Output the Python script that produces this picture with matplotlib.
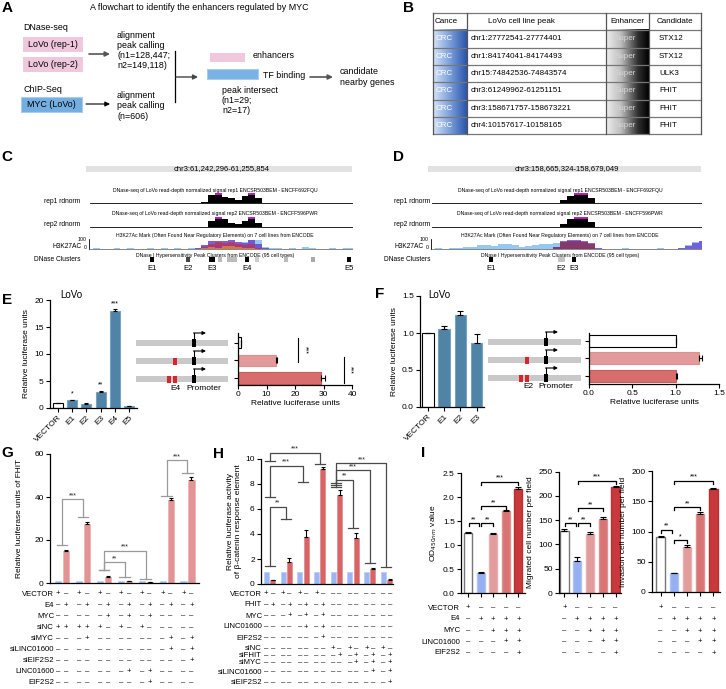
import numpy as np
import matplotlib.pyplot as plt
from matplotlib.patches import Rectangle
from matplotlib.colors import LinearSegmentedColormap
from matplotlib.transforms import blended_transform_factory

plt.rcParams['font.family'] = ['Liberation Sans', 'DejaVu Sans']

# ---------------- data ----------------
# B: candidate table
tb_cancer = ['CRC'] * 6
tb_peaks = ['chr1:27772541-27774401', 'chr1:84174041-84174493', 'chr15:74842536-74843574',
            'chr3:61249962-61251151', 'chr3:158671757-158673221', 'chr4:10157617-10158165']
tb_enh = ['Super'] * 6
tb_genes = ['STX12', 'STX12', 'ULK3', 'FHIT', 'FHIT', 'FHIT']

# C / D: browser tracks, signal along the locus (kb from region start)
c_region = 'chr3:61,242,296-61,255,854'
c_len = 13.558
c_rep1 = [0.02, 0.00, 0.03, 0.01, 0.02, 0.04, 0.00, 0.02, 0.03, 0.01, 0.02, 0.05, 0.02, 0.00, 0.03, 0.02,
          0.04, 0.20, 0.90, 1.00, 0.70, 0.55, 0.35, 0.85, 1.00, 0.60, 0.05, 0.02, 0.03, 0.00, 0.02, 0.04,
          0.00, 0.02, 0.03, 0.00, 0.02, 0.03, 0.00, 0.02]
c_rep2 = [0.01, 0.02, 0.00, 0.03, 0.01, 0.02, 0.03, 0.00, 0.02, 0.01, 0.03, 0.02, 0.00, 0.02, 0.04, 0.01,
          0.03, 0.05, 0.70, 1.00, 0.90, 0.45, 0.30, 0.70, 1.00, 0.40, 0.03, 0.01, 0.02, 0.00, 0.03, 0.01,
          0.02, 0.00, 0.02, 0.03, 0.01, 0.02, 0.00, 0.01]
c_k27_blue = [0.05, 0.10, 0.04, 0.08, 0.12, 0.06, 0.10, 0.05, 0.08, 0.15, 0.06, 0.10, 0.05, 0.12, 0.08, 0.10,
              0.20, 0.35, 0.50, 0.55, 0.60, 0.55, 0.60, 0.75, 1.00, 0.95, 0.25, 0.10, 0.15, 0.08, 0.10, 0.06,
              0.25, 0.10, 0.05, 0.08, 0.12, 0.06, 0.10, 0.15]
c_k27_purple = [0.00, 0.03, 0.00, 0.00, 0.05, 0.00, 0.02, 0.00, 0.00, 0.04, 0.00, 0.00, 0.03, 0.00, 0.00, 0.05,
                0.15, 0.45, 0.85, 0.90, 0.90, 0.95, 0.80, 0.70, 0.95, 0.55, 0.10, 0.00, 0.03, 0.00, 0.00, 0.04,
                0.00, 0.00, 0.02, 0.00, 0.00, 0.05, 0.00, 0.03]
c_k27_red = [0.00, 0.00, 0.04, 0.00, 0.00, 0.00, 0.05, 0.00, 0.00, 0.00, 0.03, 0.00, 0.00, 0.04, 0.00, 0.00,
             0.05, 0.25, 0.60, 0.75, 0.65, 0.80, 0.60, 0.45, 0.60, 0.20, 0.00, 0.00, 0.00, 0.04, 0.00, 0.00,
             0.00, 0.00, 0.05, 0.00, 0.00, 0.00, 0.03, 0.00]
c_k27_gold = [0.00, 0.04, 0.00, 0.00, 0.00, 0.03, 0.00, 0.00, 0.05, 0.00, 0.00, 0.04, 0.00, 0.00, 0.00, 0.03,
              0.00, 0.10, 0.30, 0.20, 0.35, 0.40, 0.25, 0.15, 0.20, 0.05, 0.00, 0.04, 0.00, 0.00, 0.03, 0.00,
              0.00, 0.05, 0.00, 0.00, 0.04, 0.00, 0.00, 0.00]
c_cl_pos = [3.20, 5.05, 6.29, 6.70, 7.32, 8.09, 8.61, 10.10, 11.50, 13.35]
c_cl_w = [0.20, 0.20, 0.26, 0.22, 0.50, 0.22, 0.22, 0.20, 0.20, 0.20]
c_cl_col = ['black', '#444444', 'black', '#bbbbbb', '#bbbbbb', 'black', '#cccccc', '#bbbbbb', '#aaaaaa', 'black']
c_e_idx = [0, 1, 2, 5, 9]
c_e_names = ['E1', 'E2', 'E3', 'E4', 'E5']

d_region = 'chr3:158,665,324-158,679,049'
d_len = 13.725
d_rep1 = [0.02, 0.00, 0.01, 0.03, 0.00, 0.02, 0.01, 0.00, 0.03, 0.02, 0.00, 0.01, 0.02, 0.00, 0.03, 0.01,
          0.02, 0.03, 0.05, 0.40, 0.80, 1.00, 1.00, 0.60, 0.05, 0.02, 0.00, 0.01, 0.03, 0.00, 0.02, 0.01,
          0.00, 0.02, 0.03, 0.00, 0.01, 0.02, 0.00, 0.03]
d_rep2 = [0.03, 0.01, 0.02, 0.00, 0.03, 0.02, 0.04, 0.01, 0.03, 0.00, 0.02, 0.03, 0.01, 0.02, 0.00, 0.03,
          0.02, 0.01, 0.04, 0.30, 0.85, 1.00, 1.00, 0.50, 0.04, 0.01, 0.03, 0.00, 0.02, 0.01, 0.03, 0.00,
          0.02, 0.01, 0.00, 0.03, 0.02, 0.00, 0.01, 0.02]
d_k27_blue = [0.05, 0.10, 0.08, 0.12, 0.20, 0.30, 0.25, 0.45, 0.50, 0.35, 0.55, 0.60, 0.45, 0.30, 0.35, 0.50,
              0.55, 0.60, 0.65, 0.70, 0.75, 0.80, 0.70, 0.30, 0.10, 0.06, 0.08, 0.05, 0.10, 0.06, 0.08, 0.05,
              0.07, 0.10, 0.06, 0.08, 0.20, 0.50, 0.75, 0.90]
d_k27_purple = [0.03, 0.00, 0.05, 0.00, 0.02, 0.00, 0.04, 0.00, 0.06, 0.00, 0.03, 0.00, 0.05, 0.00, 0.02, 0.00,
                0.04, 0.05, 0.30, 0.85, 0.95, 0.95, 0.90, 0.70, 0.10, 0.00, 0.03, 0.00, 0.00, 0.04, 0.00, 0.00,
                0.03, 0.00, 0.00, 0.05, 0.10, 0.35, 0.65, 0.85]
d_k27_red = [0.00, 0.00, 0.00, 0.03, 0.00, 0.00, 0.00, 0.04, 0.00, 0.00, 0.00, 0.03, 0.00, 0.00, 0.00, 0.04,
             0.00, 0.00, 0.25, 0.75, 0.85, 0.85, 0.80, 0.55, 0.05, 0.00, 0.00, 0.00, 0.04, 0.00, 0.00, 0.00,
             0.00, 0.03, 0.00, 0.00, 0.00, 0.00, 0.00, 0.00]
d_k27_gold = [0.00, 0.03, 0.00, 0.00, 0.00, 0.00, 0.04, 0.00, 0.00, 0.00, 0.05, 0.00, 0.00, 0.00, 0.03, 0.00,
              0.00, 0.00, 0.00, 0.00, 0.00, 0.00, 0.00, 0.00, 0.00, 0.04, 0.00, 0.00, 0.06, 0.00, 0.00, 0.00,
              0.04, 0.00, 0.00, 0.00, 0.00, 0.03, 0.00, 0.00]
d_cl_pos = [3.00, 6.58, 7.21]
d_cl_w = [0.22, 0.36, 0.22]
d_cl_col = ['black', '#c4c4c4', 'black']
d_e_idx = [0, 1, 2]
d_e_names = ['E1', 'E2', 'E3']

# E
e_labels = ['VECTOR', 'E1', 'E2', 'E3', 'E4', 'E5']
e_vals = [1.0, 1.4, 0.8, 3.0, 18.0, 0.3]
e_err = [0.0, 0.1, 0.05, 0.15, 0.3, 0.05]
e_stars = ['', '*', '', '**', '***', '']
e4_vals = [1.0, 13.2, 29.0]
e4_err = [0.2, 0.6, 1.4]

# F
f_labels = ['VECTOR', 'E1', 'E2', 'E3']
f_vals = [1.0, 1.05, 1.25, 0.86]
f_err = [0.0, 0.05, 0.05, 0.12]
e2_vals = [1.0, 1.27, 1.0]
e2_err = [0.0, 0.03, 0.02]

# G
g_blue = [1.0, 1.0, 1.0, 1.0, 1.0, 1.0, 1.0]
g_red = [15.0, 27.3, 2.9, 0.9, 0.3, 38.6, 47.9]
g_red_err = [0.3, 1.0, 0.3, 0.1, 0.05, 0.8, 1.3]
g_rows = ['VECTOR', 'E4', 'MYC', 'siNC', 'siMYC', 'siLINC01600', 'siEIF2S2', 'LINC01600', 'EIF2S2']
g_signs = ['+-+-+-+-+-+-+-',
           '-+-+-+-+-+-+-+',
           '-----+-+-+----',
           '+++++-+-+-----',
           '---+-------+-+',
           '-----------+-+',
           '-------------+',
           '-------+-+----',
           '---------+----']
g_brackets = [(0, 1, 39, 17.5, 30.5, '***'), (2, 3, 9.6, 6, 2.8, '**'),
              (2, 4, 15, 6, 1.7, '***'), (5, 6, 57, 40.5, 51, '***')]

# H
h_blue = [1.0, 1.0, 1.0, 1.0, 1.0, 1.0, 1.0, 1.0]
h_red = [0.3, 1.75, 3.8, 9.2, 7.1, 3.7, 1.2, 0.35]
h_red_err = [0.03, 0.35, 0.5, 0.2, 0.45, 0.35, 0.05, 0.05]
h_rows = ['VECTOR', 'FHIT', 'MYC', 'LINC01600', 'EIF2S2', 'siNC', 'siFHIT', 'siMYC', 'siLINC01600', 'siEIF2S2']
h_signs = ['+-+-+-+---------',
           '-+-+-+-+--------',
           '---+-+-+--------',
           '-----+-+--------',
           '-------+--------',
           '--------+-+-+-+-',
           '---------+-+-+-+',
           '-----------+-+-+',
           '-------------+-+',
           '---------------+']
h_brackets = [(0, 3, 10.5, 9.8, 9.6, '***'), (0, 2, 9.45, 7.0, 8.2, '***'), (0, 1, 6.2, 1.45, 5.2, '**'),
              (4, 7, 9.65, 8.1, 1.35, '***'), (4, 6, 9.1, 7.9, 1.7, '***'), (4, 5, 8.35, 7.75, 4.5, '**')]

# I
i_od = [1.25, 0.42, 1.22, 1.70, 2.16]
i_od_err = [0.03, 0.02, 0.02, 0.02, 0.04]
i_mig = [128, 65, 122, 153, 218]
i_mig_err = [3, 10, 3, 4, 2]
i_inv = [91, 31, 75, 129, 170]
i_inv_err = [2, 1, 3, 3, 2]
i_rows = ['VECTOR', 'E4', 'MYC', 'LINC01600', 'EIF2S2']
i_signs = ['+----', '-++++', '--+++', '---++', '----+']
i_od_br = [(0, 1, 1.46, '**'), (1, 2, 1.46, '**'), (1, 3, 1.81, '**'), (1, 4, 2.32, '***')]
i_mig_br = [(0, 1, 144, '**'), (1, 2, 144, '**'), (1, 3, 175, '**'), (1, 4, 231, '***')]
i_inv_br = [(0, 1, 103, '**'), (1, 2, 86, '*'), (1, 3, 140, '**'), (1, 4, 184, '***')]

# ---------------- figure ----------------
W, H = 726, 689
fig = plt.figure(figsize=(W / 100, H / 100), dpi=100)


def px_ax(x0, y0, x1, y1):
    return fig.add_axes([x0 / W, 1 - y1 / H, (x1 - x0) / W, (y1 - y0) / H])


ov = fig.add_axes([0, 0, 1, 1])
ov.axis('off')
ov.set_xlim(0, W)
ov.set_ylim(H, 0)

for lab, (x, y) in {'A': (7, 8), 'B': (409, 8), 'C': (7, 157), 'D': (399, 157), 'E': (7, 300),
                    'F': (380, 294), 'G': (7, 453), 'H': (218, 454), 'I': (423, 453)}.items():
    ov.text(x, y, lab, fontsize=11, fontweight='bold', ha='center', va='center')


def arrow(x0, y, x1, color='#333333', lw=1.0):
    ov.annotate('', xy=(x1, y), xytext=(x0, y),
                arrowprops=dict(arrowstyle='-|>', color=color, lw=lw, mutation_scale=7, shrinkA=0, shrinkB=0))


# A: flowchart
pink, sky = '#efc8de', '#74aee0'
fs_a = 6.4
ov.text(90, 7, 'A flowchart to identify the enhancers regulated by MYC', fontsize=fs_a, va='center')
ov.text(23, 28, 'DNase-seq', fontsize=fs_a, va='center')
for y0, t in [(37, 'LoVo (rep-1)'), (57, 'LoVo (rep-2)')]:
    ov.add_patch(Rectangle((23, y0), 60, 15, fc=pink, ec='none'))
    ov.text(53, y0 + 7.5, t, ha='center', va='center', fontsize=fs_a)
ov.text(23, 90, 'ChIP-Seq', fontsize=fs_a, va='center')
ov.add_patch(Rectangle((21, 97), 61, 15, fc=sky, ec='#a8cdee', lw=0.8))
ov.text(51.5, 104.5, 'MYC (LoVo)', ha='center', va='center', fontsize=fs_a)
arrow(89, 54, 110, color='#555555', lw=1.2)
arrow(86, 104, 110, color='black', lw=0.8)
ov.text(117, 50.5, 'alignment\npeak calling\n(n1=128,447;\nn2=149,118)', fontsize=fs_a, va='center',
        linespacing=1.15)
ov.text(117, 106, 'alignment\npeak calling\n(n=606)', fontsize=fs_a, va='center', linespacing=1.15)
ov.plot([175, 175], [51, 102], color='black', lw=0.9)
arrow(176, 77, 198, color='#444444', lw=1.0)
ov.add_patch(Rectangle((210, 53), 35, 9, fc=pink, ec='none'))
ov.text(253, 56, 'enhancers', fontsize=fs_a, va='center')
ov.add_patch(Rectangle((207, 69), 51, 10, fc='#7ab3e3', ec='#a8cdee', lw=0.8))
ov.text(263, 76, 'TF binding', fontsize=fs_a, va='center')
arrow(310, 77, 333, color='#555555', lw=1.2)
ov.text(340, 77, 'candidate\nnearby genes', fontsize=fs_a, va='center', linespacing=1.15)
ov.text(222, 100.5, 'peak intersect\n(n1=29;\nn2=17)', fontsize=fs_a, va='center', linespacing=1.15)

# B: table
cols = [432.7, 466.7, 606, 649, 700.7]
rows = [12.7, 30, 47.5, 65, 82.3, 99.7, 116.8, 134.3]
grad = np.linspace(0, 1, 256)[None, :]
blue_cm = LinearSegmentedColormap.from_list('cb', ['#d6e3f6', '#7b9fda', '#2a54ac'])
grey_cm = LinearSegmentedColormap.from_list('cg', [(0, '#eeeeee'), (0.35, '#bdbdbd'), (0.75, '#2e2e2e'), (1, '#000000')])
ov.imshow(grad, cmap=blue_cm, extent=(cols[0], cols[1], rows[-1], rows[1]), aspect='auto', zorder=1)
ov.imshow(grad, cmap=grey_cm, extent=(cols[2], cols[3], rows[-1], rows[1]), aspect='auto', zorder=1)
for y in rows:
    ov.plot([cols[0], cols[-1]], [y, y], color='#777777', lw=0.9, zorder=2)
for x in cols:
    ov.plot([x, x], [rows[0], rows[-1]], color='#555555', lw=0.9, zorder=2)
fs_b = 5.8
ov.text(434.5, 21.5, 'Cance', fontsize=fs_b, va='center', zorder=3)
ov.text(488, 21.5, 'LoVo cell line peak', fontsize=fs_b, va='center', zorder=3)
ov.text(627.5, 21.5, 'Enhancer', fontsize=fs_b, va='center', ha='center', zorder=3)
ov.text(675, 21.5, 'Candidate', fontsize=fs_b, va='center', ha='center', zorder=3)
for k in range(len(tb_peaks)):
    yc = (rows[k + 1] + rows[k + 2]) / 2
    ov.text(436, yc, tb_cancer[k], fontsize=fs_b, va='center', color='white', zorder=3)
    ov.text(471, yc, tb_peaks[k], fontsize=fs_b, va='center', zorder=3)
    ov.text(615, yc, tb_enh[k], fontsize=fs_b, va='center', color='#d6d6d6', zorder=3)
    ov.text(659, yc, tb_genes[k], fontsize=fs_b, va='center', zorder=3)


# C / D: browser views
t_rep1 = 'DNase-seq of LoVo read-depth normalized signal rep1 ENCSR503BEM - ENCFF692FQU'
t_rep2 = 'DNase-seq of LoVo read-depth normalized signal rep2 ENCSR503BEM - ENCFF596PWR'
t_k27 = 'H3K27Ac Mark (Often Found Near Regulatory Elements) on 7 cell lines from ENCODE'
t_dn = 'DNase I Hypersensitivity Peak Clusters from ENCODE (95 cell types)'


def locus(x0, x1, lab_r, region, length, rep1, rep2, k27, cl_pos, cl_w, cl_col, e_idx, e_names, tx):
    ov.add_patch(Rectangle((x0 - 4, 166), x1 - x0 + 3, 6, fc='#e2e2e2', ec='none'))
    ov.text((x0 + x1) / 2, 168.5, region, ha='center', va='center', fontsize=5.5)
    pos = np.linspace(0, length, len(rep1))
    step = pos[1] - pos[0]
    for y0, y1, sig, title, name in [(193, 204, rep1, t_rep1, 'rep1 rdnorm'),
                                     (216.5, 227.5, rep2, t_rep2, 'rep2 rdnorm')]:
        ax = px_ax(x0, y0, x1, y1)
        ax.fill_between(pos, 0, sig, step='mid', color='black', lw=0)
        ax.axhline(0, color='black', lw=0.6)
        for p, v in zip(pos, sig):
            if v >= 1.0:
                ax.hlines(1.02, p - step / 2, p + step / 2, color='#c218c2', lw=1.4)
        ax.set_xlim(0, length)
        ax.set_ylim(-0.06, 1.15)
        ax.axis('off')
        ov.text(tx, y0 - 2.5, title, ha='center', va='center', fontsize=3.7)
        ov.text(lab_r, y1 - 2.5, name, ha='right', va='center', fontsize=4.8)
    ax = px_ax(x0, 239, x1, 250)
    for vals, col, al in k27:
        ax.fill_between(pos, 0, vals, step='mid', color=col, alpha=al, lw=0)
    ax.axhline(0, color='#555555', lw=0.5)
    ax.set_xlim(0, length)
    ax.set_ylim(-0.06, 1.1)
    ax.axis('off')
    ov.text(tx, 236, t_k27, ha='center', va='center', fontsize=3.7)
    ov.plot([x0 - 1, x0 - 1], [239, 249], color='black', lw=0.6)
    ov.text(x0 - 3, 239.5, '100', ha='right', va='center', fontsize=3.8)
    ov.text(x0 - 3, 247.5, '0', ha='right', va='center', fontsize=3.8)
    ov.text(x0 - 8, 247, 'H3K27AC', ha='right', va='center', fontsize=4.8)
    ov.text(tx, 255, t_dn, ha='center', va='center', fontsize=3.7)
    ov.text(lab_r, 259.5, 'DNase Clusters', ha='right', va='center', fontsize=4.8)
    ax = px_ax(x0, 257.5, x1, 262.5)
    ax.bar(cl_pos, [1] * len(cl_pos), width=cl_w, color=cl_col)
    ax.set_xlim(0, length)
    ax.set_ylim(0, 1)
    ax.axis('off')
    tr = blended_transform_factory(ax.transData, ov.transData)
    for k, nm in zip(e_idx, e_names):
        ax.text(cl_pos[k], 269, nm, transform=tr, ha='center', va='center', fontsize=5.5)


locus(90, 353, 80, c_region, c_len, c_rep1, c_rep2,
      [(c_k27_blue, '#95c8f5', 1.0), (c_k27_purple, '#6a45c8', 0.85),
       (c_k27_red, '#c2304c', 0.7), (c_k27_gold, '#f0a030', 0.6)],
      c_cl_pos, c_cl_w, c_cl_col, c_e_idx, c_e_names, 215)
locus(432, 702, 430, d_region, d_len, d_rep1, d_rep2,
      [(d_k27_blue, '#95c8f5', 1.0), (d_k27_purple, '#6a50d8', 0.85),
       (d_k27_red, '#8e2a48', 0.75), (d_k27_gold, '#f0a030', 0.6)],
      d_cl_pos, d_cl_w, d_cl_col, d_e_idx, d_e_names, 560)


def style(ax, fs=6):
    ax.spines[['top', 'right']].set_visible(False)
    ax.spines[['left', 'bottom']].set_linewidth(0.9)
    ax.tick_params(labelsize=fs, length=3, width=0.8, pad=1.5)
    ax.patch.set_visible(False)


def construct(x0, x1, xp, ys, red_sets, xe, lab):
    for y, reds in zip(ys, red_sets):
        ov.add_patch(Rectangle((x0, y - 3), x1 - x0, 6, fc='#c9c9c9', ec='none'))
        for rx in reds:
            ov.add_patch(Rectangle((rx, y - 3.5), 4, 7, fc='#d7262b', ec='none'))
        ov.add_patch(Rectangle((xp, y - 4), 3.5, 8, fc='black', ec='none'))
        ov.plot([xp + 1.75, xp + 1.75], [y - 4, y - 10], color='black', lw=0.8)
        ov.annotate('', xy=(xp + 14, y - 10), xytext=(xp + 1.5, y - 10),
                    arrowprops=dict(arrowstyle='-|>', lw=0.8, color='black', mutation_scale=5,
                                    shrinkA=0, shrinkB=0))
    ov.text(xe, ys[-1] + 9, lab, fontsize=6, ha='center', va='center')
    ov.text(xp + 12, ys[-1] + 9, 'Promoter', fontsize=6, ha='center', va='center')


# E
ov.text(60, 295, 'LoVo', fontsize=7, va='center')
axE = px_ax(50, 300, 137, 408)
xe = np.arange(len(e_labels))
axE.bar(xe, e_vals, width=0.7, color=['white'] + ['#4f84a6'] * 5,
        edgecolor=['black'] + ['#78a4c2'] * 5, linewidth=0.8)
axE.errorbar(xe, e_vals, yerr=[np.zeros(len(xe)), e_err], fmt='none', ecolor='black',
             elinewidth=0.8, capsize=1.5, capthick=0.8)
for x, v, er, s in zip(xe, e_vals, e_err, e_stars):
    if s:
        axE.text(x, v + er + 0.4, s, ha='center', va='bottom', fontsize=5)
axE.set_xlim(-0.56, 5.56)
axE.set_ylim(0, 20)
axE.set_yticks([0, 5, 10, 15, 20])
axE.set_xticks(xe)
axE.set_xticklabels(e_labels, rotation=45, ha='right', rotation_mode='anchor')
axE.set_ylabel('Relative luciferase units', fontsize=6, labelpad=3)
style(axE)

construct(136, 228, 192, [343, 361, 379], [[], [173], [167, 173]], 175, 'E4')
axE2 = px_ax(238, 333, 352, 385)
r3 = np.arange(3)
axE2.barh(r3, e4_vals, height=0.63, color=['white', '#e39a9a', '#d76d6d'],
          edgecolor=['black', '#de9090', '#c85c5c'], linewidth=0.8)
axE2.errorbar(e4_vals, r3, xerr=[np.zeros(3), e4_err], fmt='none', ecolor='black',
              elinewidth=0.8, capsize=2, capthick=0.8)
axE2.set_xlim(0, 40)
axE2.set_ylim(2.4, -0.57)
axE2.set_yticks(r3)
axE2.set_yticklabels([])
axE2.set_xticks([0, 10, 20, 30, 40])
axE2.set_xlabel('Relative luciferase units', fontsize=6, labelpad=1)
style(axE2)
axE2.plot([21.2, 21.2], [-0.29, 1.09], color='black', lw=0.8, clip_on=False)
axE2.text(23.4, 0.4, '***', rotation=270, ha='center', va='center', fontsize=5)
axE2.plot([37.1, 37.1], [0.8, 2.29], color='black', lw=0.8, clip_on=False)
axE2.text(39.3, 1.55, '***', rotation=270, ha='center', va='center', fontsize=5)

# F
ov.text(428, 295, 'LoVo', fontsize=7, va='center')
axF = px_ax(420, 296, 484, 407)
xf = np.arange(len(f_labels))
axF.bar(xf, f_vals, width=0.7, color=['white'] + ['#4f84a6'] * 3,
        edgecolor=['black'] + ['#78a4c2'] * 3, linewidth=0.8)
axF.errorbar(xf, f_vals, yerr=[np.zeros(len(xf)), f_err], fmt='none', ecolor='black',
             elinewidth=0.8, capsize=2, capthick=0.8)
axF.set_xlim(-0.49, 3.46)
axF.set_ylim(0, 1.5)
axF.set_yticks([0, 0.5, 1.0, 1.5])
axF.set_yticklabels(['0.0', '0.5', '1.0', '1.5'])
axF.set_xticks(xf)
axF.set_xticklabels(f_labels, rotation=45, ha='right', rotation_mode='anchor')
axF.set_ylabel('Relative luciferase units', fontsize=6, labelpad=3)
style(axF)

construct(488, 581, 544, [342, 360, 378], [[], [525], [519, 525]], 528, 'E2')
axF2 = px_ax(589, 333, 719, 384)
axF2.barh(r3, e2_vals, height=0.7, color=['white', '#e39a9a', '#d76d6d'],
          edgecolor=['black', '#de9090', '#c85c5c'], linewidth=0.8)
axF2.errorbar(e2_vals, r3, xerr=[np.zeros(3), e2_err], fmt='none', ecolor='black',
              elinewidth=0.8, capsize=2, capthick=0.8)
axF2.set_xlim(0, 1.5)
axF2.set_ylim(2.49, -0.47)
axF2.set_yticks(r3)
axF2.set_yticklabels([])
axF2.set_xticks([0, 0.5, 1.0, 1.5])
axF2.set_xticklabels(['0.0', '0.5', '1.0', '1.5'])
axF2.set_xlabel('Relative luciferase units', fontsize=6, labelpad=1)
style(axF2)


def sign_rows(ax, xs, names, signs, ys, label_x, fs=5.6):
    tr = blended_transform_factory(ax.transData, ov.transData)
    for nm, row, y in zip(names, signs, ys):
        if nm:
            ov.text(label_x, y, nm, ha='right', va='center', fontsize=fs)
        for x, ch in zip(xs, row):
            ax.text(x, y, '+' if ch == '+' else '\u2013', transform=tr, ha='center', va='center', fontsize=fs)


def leg_bracket(ax, x1, x2, top, e1, e2, txt, color, cw):
    ax.plot([x1, x1, x2, x2], [e1, top, top, e2], color=color, lw=0.9, clip_on=False)
    ax.plot([x1 - cw, x1 + cw], [e1, e1], color=color, lw=0.9, clip_on=False)
    ax.plot([x2 - cw, x2 + cw], [e2, e2], color=color, lw=0.9, clip_on=False)
    ax.text((x1 + x2) / 2, top, txt, ha='center', va='bottom', fontsize=5, color='#222222')


# G
axG = px_ax(50, 454, 199, 583)
xg = np.arange(len(g_red))
axG.bar(xg - 0.19, g_blue, width=0.29, color='#a0b8f0', edgecolor='#bccdf5', linewidth=0.5)
axG.bar(xg + 0.19, g_red, width=0.29, color='#e39393', edgecolor='#eab0b0', linewidth=0.5)
axG.errorbar(xg + 0.19, g_red, yerr=[np.zeros(len(xg)), g_red_err], fmt='none', ecolor='black',
             elinewidth=0.8, capsize=1.5, capthick=0.8)
axG.set_xlim(-0.57, 6.55)
axG.set_ylim(0, 60)
axG.set_yticks([0, 20, 40, 60])
axG.set_xticks([])
axG.set_ylabel('Relative luciferase units of FHIT', fontsize=6, labelpad=8)
style(axG)
for i, j, top, e1, e2, txt in g_brackets:
    leg_bracket(axG, xg[i], xg[j], top, e1, e2, txt, '#9a9a9a', 0.25)
xs_g = [x + d for x in xg for d in (-0.19, 0.19)]
sign_rows(axG, xs_g, g_rows, g_signs, [594 + 11.1 * k for k in range(len(g_rows))], 54)

# H
axH = px_ax(261, 459, 393, 584)
xh = np.arange(len(h_red))
axH.bar(xh - 0.19, h_blue, width=0.3, color='#9db5f2', edgecolor='#b8cbf5', linewidth=0.5)
axH.bar(xh + 0.19, h_red, width=0.3, color='#d86464', edgecolor='#e08a8a', linewidth=0.5)
axH.errorbar(xh + 0.19, h_red, yerr=[np.zeros(len(xh)), h_red_err], fmt='none', ecolor='black',
             elinewidth=0.8, capsize=1.5, capthick=0.8)
axH.set_xlim(-0.51, 7.39)
axH.set_ylim(0, 10)
axH.set_yticks([0, 2, 4, 6, 8, 10])
axH.set_xticks([])
axH.set_ylabel('Relative luciferase activity\nof \u03b2-catenin response element', fontsize=6, labelpad=2)
style(axH)
for i, j, top, e1, e2, txt in h_brackets:
    leg_bracket(axH, xh[i], xh[j], top, e1, e2, txt, '#4a4a4a', 0.3)
xs_h = [x + d for x in xh for d in (-0.19, 0.19)]
sign_rows(axH, xs_h, h_rows, h_signs, [594, 605, 616, 627, 638, 648.5, 655.5, 662.5, 672, 682.5], 262)

# I
i_cols = ['white', '#95aff2', '#e39c9c', '#d97474', '#c9383c']
i_edges = ['#777777', '#aec2f5', '#e8b0b0', '#e09090', '#b83030']


def panel_i(box, vals, err, ylim, yt, ytl, ylab, brs, leg, xlim):
    ax = px_ax(*box)
    x = np.arange(len(vals))
    ax.bar(x, vals, width=0.63, color=i_cols, edgecolor=i_edges, linewidth=1.0)
    ax.errorbar(x, vals, yerr=[np.zeros(len(x)), err], fmt='none', ecolor='black',
                elinewidth=0.8, capsize=2, capthick=0.8)
    ax.set_xlim(*xlim)
    ax.set_ylim(0, ylim)
    ax.set_yticks(yt)
    ax.set_yticklabels(ytl)
    ax.set_xticks(x)
    ax.set_xticklabels([])
    ax.set_ylabel(ylab, fontsize=6, labelpad=3)
    style(ax)
    for i, j, y, txt in brs:
        a = x[i] + 0.04
        b = x[j] - (0.12 if i == 0 else 0.0)
        ax.plot([a, a, b, b], [y - leg, y, y, y - leg], color='black', lw=0.9, clip_on=False)
        ax.text((a + b) / 2, y, txt, ha='center', va='bottom', fontsize=5)
    return ax, x


axI1, xi = panel_i((461, 473, 525, 593), i_od, i_od_err, 2.5, [0, 0.5, 1, 1.5, 2, 2.5],
                   ['0.0', '0.5', '1.0', '1.5', '2.0', '2.5'], 'OD$_{450nm}$ value', i_od_br, 0.06,
                   (-0.56, 4.52))
axI2, _ = panel_i((559, 471.5, 621, 593), i_mig, i_mig_err, 250, [0, 50, 100, 150, 200, 250],
                  ['0', '50', '100', '150', '200', '250'], 'Migrated cell number per field', i_mig_br, 6,
                  (-0.43, 4.43))
axI3, _ = panel_i((652, 471, 720, 592), i_inv, i_inv_err, 200, [0, 50, 100, 150, 200],
                  ['0', '50', '100', '150', '200'], 'Invasion cell number per field', i_inv_br, 5,
                  (-0.65, 4.5))
i_ys = [608, 619, 631, 642, 653]
sign_rows(axI1, xi, i_rows, i_signs, i_ys, 460)
sign_rows(axI2, xi, [''] * len(i_rows), i_signs, i_ys, 0)
sign_rows(axI3, xi, [''] * len(i_rows), i_signs, i_ys, 0)

ov.set_xlim(0, W)
ov.set_ylim(H, 0)
fig.savefig('out.png', dpi=100)
